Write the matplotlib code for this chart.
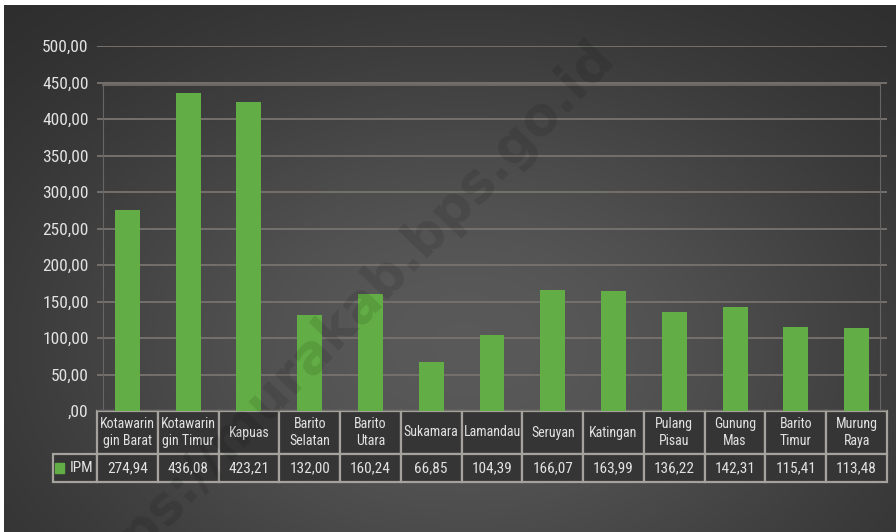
import numpy as np
import matplotlib
matplotlib.use("Agg")
import matplotlib.pyplot as plt
from matplotlib import font_manager
from matplotlib.patches import Rectangle

# data
kabupaten = ["Kotawarin\ngin Barat", "Kotawarin\ngin Timur", "Kapuas", "Barito\nSelatan",
             "Barito\nUtara", "Sukamara", "Lamandau", "Seruyan", "Katingan",
             "Pulang\nPisau", "Gunung\nMas", "Barito\nTimur", "Murung\nRaya"]
ipm = [274.94, 436.08, 423.21, 132.00, 160.24, 66.85, 104.39, 166.07, 163.99,
       136.22, 142.31, 115.41, 113.48]
yticks = [0, 50, 100, 150, 200, 250, 300, 350, 400, 450, 500]

def fmt(v):
    s = f"{v:.2f}".replace(".", ",")
    return s[1:] if s.startswith("0,") else s

# condensed font if there is one
names = sorted({f.name for f in font_manager.fontManager.ttflist})
narrow = [n for n in names if 'Narrow' in n or 'Condensed' in n]
fams = [n for n in ['Liberation Sans Narrow', 'DejaVu Sans Condensed', 'Roboto Condensed'] if n in names]
fams = (fams or narrow) + ['DejaVu Sans']
plt.rcParams['font.family'] = fams

green = '#62ad45'
txt = '#e2e2e2'

W, H = 896, 532
fig = plt.figure(figsize=(W / 100, H / 100), dpi=100, facecolor='white')

# radial gradient background
bg = fig.add_axes([4 / W, 0, 1 - 4 / W, 1 - 5 / H], zorder=-5)
yy, xx = np.mgrid[0:H - 5, 0:W - 4]
r = np.sqrt(((xx - 460) / 580.0) ** 2 + ((yy - 340) / 400.0) ** 2)
val = 0.155 + (0.35 - 0.155) * np.exp(-1.5 * r ** 2)
bg.imshow(np.dstack([val, val, val]), aspect='auto', interpolation='bilinear')
bg.set_axis_off()

ax = fig.add_axes([97 / W, 1 - 411 / H, 790 / W, 365 / H])
ax.set_facecolor('none')
x = np.arange(len(ipm))
ax.bar(x, ipm, width=0.41, color=green, zorder=3)
ax.set_xlim(-0.5, len(ipm) - 0.5)
ax.set_ylim(0, 500)
ax.set_yticks(yticks)
ax.set_yticklabels([fmt(v) for v in yticks], color=txt, fontsize=12.5)
ax.tick_params(axis='y', length=0, pad=6)
ax.set_xticks([])
for s in ax.spines.values():
    s.set_visible(False)
ax.grid(axis='y', color='#75706b', linewidth=1.4, zorder=1)
ax.set_axisbelow(True)

# back wall frame
yt = ax.get_yaxis_transform()
ax.plot([0.008, 0.008], [0, 446], color='#666666', lw=0.8, transform=yt, zorder=1)
ax.plot([0.991, 0.991], [0, 446], color='#666666', lw=0.8, transform=yt, zorder=1)
ax.plot([0.008, 0.991], [446, 446], color='#75706b', lw=1.2, transform=yt, zorder=1)

# data table
lab_w = 44 / 790
col_w = 1 / len(ipm)
head_h = 43 / 365
row_h = 28 / 365
tab = ax.table(cellText=[[fmt(v) for v in ipm]], rowLabels=["IPM"], colLabels=kabupaten,
               cellLoc='center', rowLoc='right',
               bbox=[0, -(head_h + row_h), 1, head_h + row_h])
tab.auto_set_font_size(False)
if -1 in tab._autoColumns:
    tab._autoColumns.remove(-1)
for (i, j), c in tab.get_celld().items():
    c.set_facecolor('#353535')
    c.set_edgecolor('#a5a29e')
    c.set_linewidth(1.6)
    c.get_text().set_color(txt)
    c.get_text().set_fontsize(10 if i == 0 else 11)
    c.set_width(lab_w if j == -1 else col_w)
    c.set_height(head_h if i == 0 else row_h)
    if j == -1:
        c.PAD = 0.08
        c.get_text().set_fontsize(11)
ax.add_patch(Rectangle((-42 / 790, -(head_h + row_h / 2) - 5 / 365), 9 / 790, 10 / 365,
                       transform=ax.transAxes, color=green, clip_on=False, zorder=10))

# watermark
fig.text(605 / W, 1 - 48 / H, "https://murakab.bps.go.id", rotation=46, rotation_mode='anchor',
         ha='right', va='center', fontsize=38, fontweight='bold', family='DejaVu Sans',
         color='black', alpha=0.1, zorder=20)

fig.savefig("out.png", dpi=100, facecolor='white')
